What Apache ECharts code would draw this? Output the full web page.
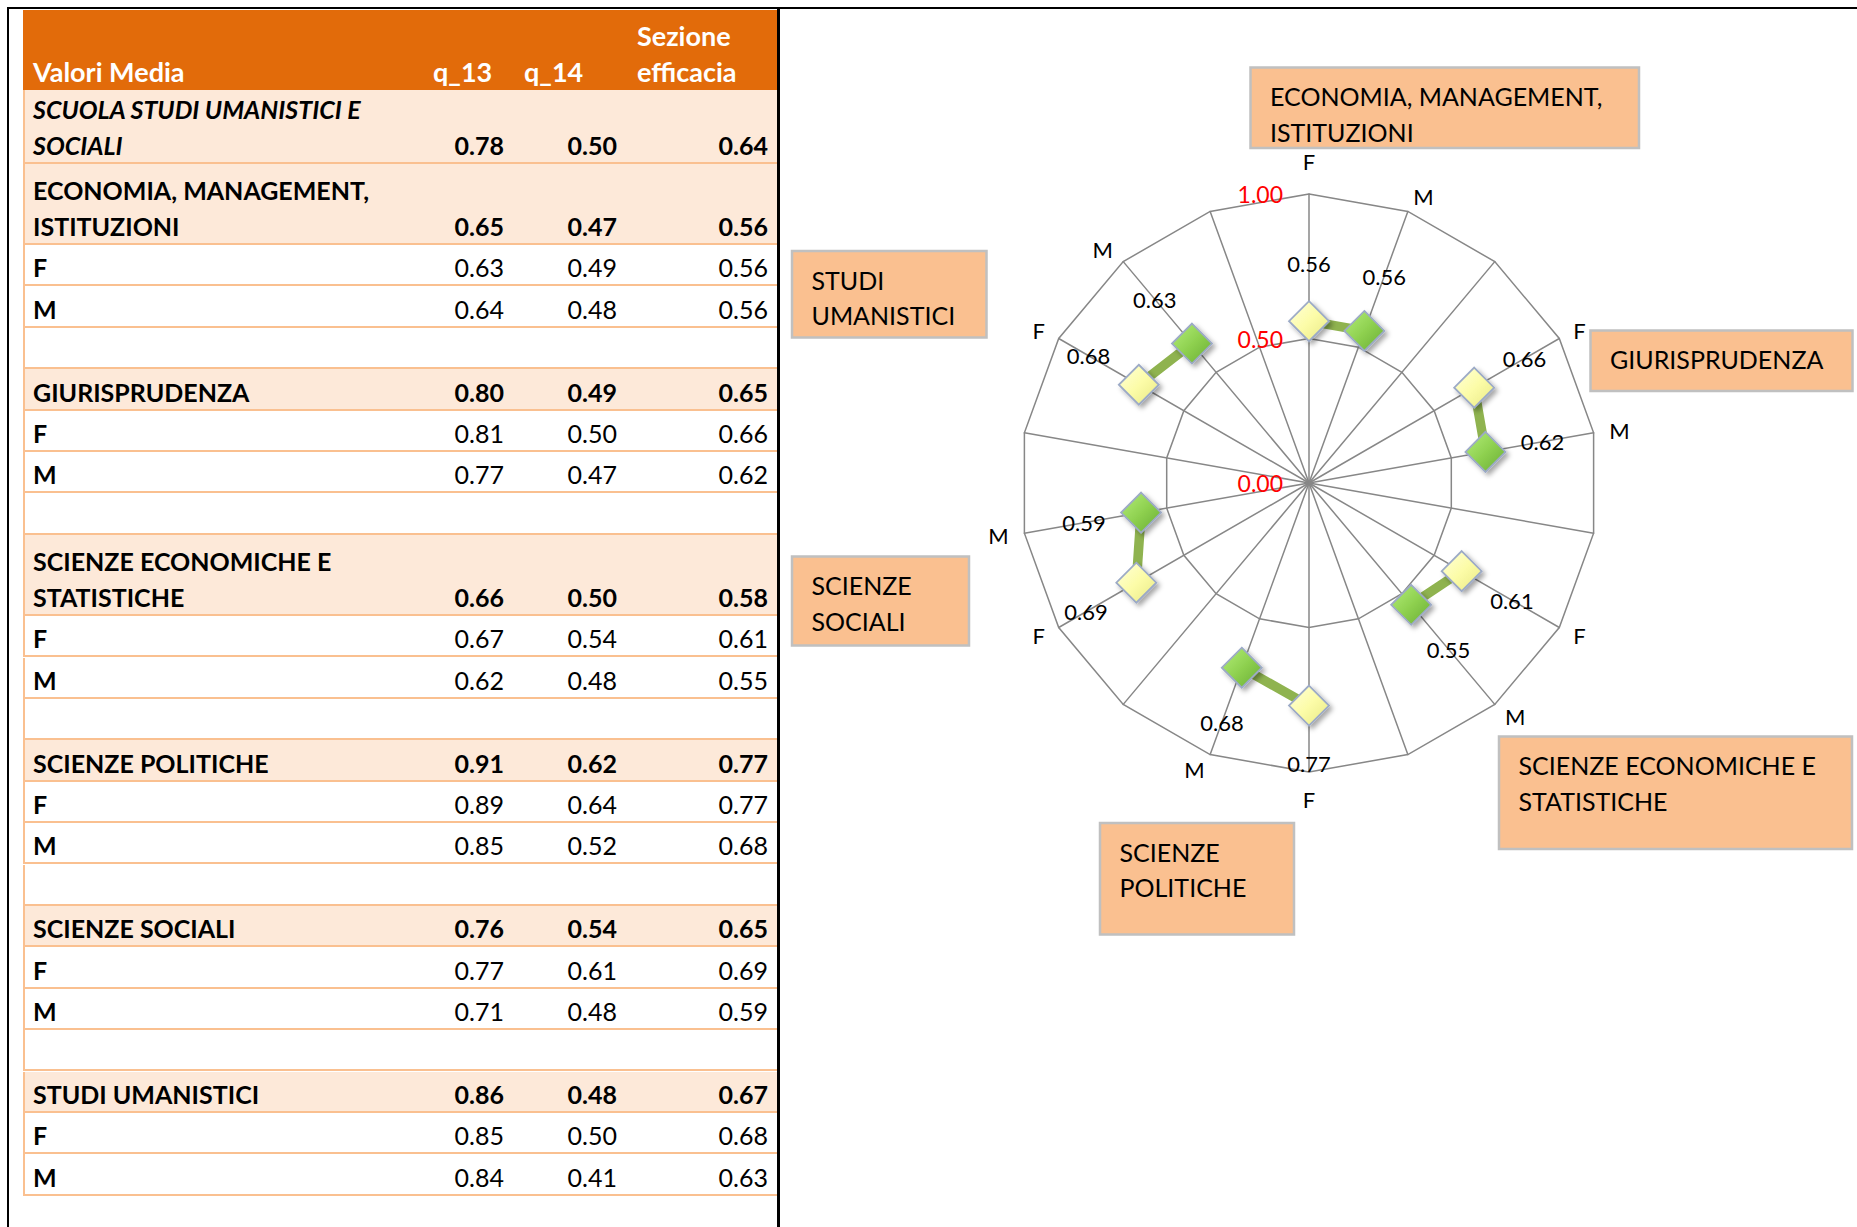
<!DOCTYPE html>
<html>
<head>
<meta charset="utf-8">
<script src="https://cdn.jsdelivr.net/npm/echarts@6/dist/echarts.min.js"></script>
<style>
  html, body { margin: 0; padding: 0; background: #fff; }
  body { width: 1857px; height: 1227px; position: relative; overflow: hidden; font-family: Lato, "Open Sans", sans-serif; }
  #chart { position: absolute; left: 0; top: 0; width: 1857px; height: 1227px; }
  .line { position: absolute; background: #000; z-index: 3; }
  .row { position: absolute; left: 23px; width: 755px; box-sizing: border-box; z-index: 2;
         border-bottom: 2px solid #fac090; border-left: 2px solid #fac090; background: #fff; }
  .row.group { background: #fde9d9; font-weight: bold; }
  .row.school { background: #fde9d9; font-weight: bold; font-style: italic; }
  .head { position: absolute; left: 23px; top: 10px; width: 755px; height: 80.3px; background: #e26b0a;
          color: #fff; font-weight: bold; z-index: 2; }
  .cell { position: absolute; bottom: -1px; line-height: 36px; font-size: 25px; white-space: pre; color: #000; }
  .head .cell { color: #fff; font-size: 27px; bottom: 0; }
  .num { font-style: normal; }
  .lab { font-weight: bold; }
</style>
</head>
<body>
<div id="chart"></div>
<div class="line" style="left:7px;top:7px;width:1850px;height:2px"></div>
<div class="line" style="left:7px;top:7px;width:2px;height:1220px"></div>
<div class="line" style="left:777px;top:7px;width:3px;height:1220px"></div>
<div id="table"></div>
<script>
// ---- data ----
const headerLabels = ["Valori Media", "q_13", "q_14", "Sezione\nefficacia"];
const schoolName = "SCUOLA STUDI UMANISTICI E\nSOCIALI";
const schoolValues = [0.78, 0.50, 0.64];

const faculties = [
  "ECONOMIA, MANAGEMENT, ISTITUZIONI",
  "GIURISPRUDENZA",
  "SCIENZE ECONOMICHE E STATISTICHE",
  "SCIENZE POLITICHE",
  "SCIENZE SOCIALI",
  "STUDI UMANISTICI",
];
const tableNames = [
  "ECONOMIA, MANAGEMENT,\nISTITUZIONI",
  "GIURISPRUDENZA",
  "SCIENZE ECONOMICHE E\nSTATISTICHE",
  "SCIENZE POLITICHE",
  "SCIENZE SOCIALI",
  "STUDI UMANISTICI",
];
const boxNames = [
  "ECONOMIA, MANAGEMENT,\nISTITUZIONI",
  "GIURISPRUDENZA",
  "SCIENZE ECONOMICHE E\nSTATISTICHE",
  "SCIENZE\nPOLITICHE",
  "SCIENZE\nSOCIALI",
  "STUDI\nUMANISTICI",
];
const sexes = ["F", "M"];

const facultyQ13 = [0.65, 0.80, 0.66, 0.91, 0.76, 0.86];
const facultyQ14 = [0.47, 0.49, 0.50, 0.62, 0.54, 0.48];
const facultySez = [0.56, 0.65, 0.58, 0.77, 0.65, 0.67];

const q13F = [0.63, 0.81, 0.67, 0.89, 0.77, 0.85];
const q14F = [0.49, 0.50, 0.54, 0.64, 0.61, 0.50];
const sezF = [0.56, 0.66, 0.61, 0.77, 0.69, 0.68];

const q13M = [0.64, 0.77, 0.62, 0.85, 0.71, 0.84];
const q14M = [0.48, 0.47, 0.48, 0.52, 0.48, 0.41];
const sezM = [0.56, 0.62, 0.55, 0.68, 0.59, 0.63];

const radarTicks = [0, 0.5, 1];

// ---- table ----
const table = document.getElementById("table");
const fmt = (v) => v.toFixed(2);
const valueRight = [274, 161, 10];

function addCell(parent, text, style, cls) {
  const c = document.createElement("div");
  c.className = "cell " + (cls || "");
  c.textContent = text;
  Object.assign(c.style, style);
  parent.appendChild(c);
}

const head = document.createElement("div");
head.className = "head";
addCell(head, headerLabels[0], { left: "10px" });
addCell(head, headerLabels[1], { left: "410px" });
addCell(head, headerLabels[2], { left: "501px" });
addCell(head, headerLabels[3], { left: "614px" });
table.appendChild(head);

const rows = [{ kind: "school", label: schoolName, values: schoolValues, h: 73.4 }];
faculties.forEach((f, i) => {
  const twoLines = tableNames[i].includes("\n");
  rows.push({ kind: "group", label: tableNames[i], values: [facultyQ13[i], facultyQ14[i], facultySez[i]], h: twoLines ? 81.3 : 41.4 });
  rows.push({ kind: "sex", label: sexes[0], values: [q13F[i], q14F[i], sezF[i]], h: 41.4 });
  rows.push({ kind: "sex", label: sexes[1], values: [q13M[i], q14M[i], sezM[i]], h: 41.4 });
  if (i < faculties.length - 1) rows.push({ kind: "blank", label: "", values: [], h: 41.4 });
});

let y = 89.3;
rows.forEach((r) => {
  const d = document.createElement("div");
  d.className = "row " + r.kind;
  d.style.top = (y + 1) + "px";
  d.style.height = r.h + "px";
  if (r.label) addCell(d, r.label, { left: "8px" }, "lab");
  r.values.forEach((v, k) => addCell(d, fmt(v), { right: valueRight[k] + "px" }, "num"));
  table.appendChild(d);
  y += r.h;
});

// ---- radar ----
const spokeNames = [];
const spokeValues = [];
const spokeSex = [];
faculties.forEach((f, i) => {
  spokeNames.push(sexes[0], sexes[1], "");
  spokeValues.push(sezF[i], sezM[i], "-");
  spokeSex.push("F", "M", "");
});
const n = spokeNames.length;
const center = [1309, 483];
const radius = 289;

// radar goes counter-clockwise, the reference goes clockwise
const ccwOrder = spokeNames.map((_, i) => (n - i) % n);

const yellowFill = {
  type: "linear", x: 0, y: 0, x2: 1, y2: 1,
  colorStops: [{ offset: 0, color: "#ffffdc" }, { offset: 0.5, color: "#fcfca8" }, { offset: 1, color: "#e8e884" }],
};
const greenFill = {
  type: "linear", x: 0, y: 0, x2: 1, y2: 1,
  colorStops: [{ offset: 0, color: "#b4ee7a" }, { offset: 0.5, color: "#8fd150" }, { offset: 1, color: "#68ac32" }],
};

const labelDist = 58;
const seriesData = spokeValues.map((v, i) => {
  if (v === "-") return "-";
  const a = (i * 2 * Math.PI) / n;
  return {
    value: v,
    itemStyle: { color: spokeSex[i] === "F" ? yellowFill : greenFill },
    label: { offset: [labelDist * Math.sin(a), -labelDist * Math.cos(a)] },
  };
});

const boxes = [
  { name: boxNames[0], x: 1250.5, y: 67.5, w: 388.5, h: 80.5 },
  { name: boxNames[1], x: 1590.5, y: 330.5, w: 262, h: 60.5 },
  { name: boxNames[2], x: 1499, y: 736.5, w: 353, h: 112.5 },
  { name: boxNames[3], x: 1100, y: 823, w: 194, h: 111.5 },
  { name: boxNames[4], x: 792, y: 556.5, w: 177, h: 89 },
  { name: boxNames[5], x: 792, y: 251, w: 194.5, h: 86.5 },
];

const chart = echarts.init(document.getElementById("chart"), null, { renderer: "svg" });
chart.setOption({
  animation: false,
  backgroundColor: "#fff",
  textStyle: { fontFamily: "Lato" },
  radar: {
    center: center,
    radius: radius,
    startAngle: 90,
    shape: "polygon",
    splitNumber: radarTicks.length - 1,
    nameGap: 16,
    axisName: { color: "#000", fontSize: 22, fontFamily: "Lato", padding: [0, 0, 6, 0] },
    indicator: ccwOrder.map((i) => ({
      name: spokeNames[i],
      min: radarTicks[0],
      max: radarTicks[radarTicks.length - 1],
      axisLabel: i === 0
        ? { show: true, color: "#ff0000", fontSize: 23, fontFamily: "Lato", margin: 26, formatter: (v) => Number(v).toFixed(2) }
        : { show: false },
    })),
    axisLine: { lineStyle: { color: "#878787", width: 1.5 } },
    splitLine: { lineStyle: { color: "#878787", width: 1.5 } },
    splitArea: { show: false },
    axisTick: { show: false },
    axisLabel: { show: false },
  },
  polar: { center: center, radius: radius },
  angleAxis: {
    type: "category",
    data: spokeNames.map((s, i) => i + s),
    startAngle: 90,
    clockwise: true,
    boundaryGap: false,
    axisLine: { show: false },
    axisTick: { show: false },
    axisLabel: { show: false },
    splitLine: { show: false },
  },
  radiusAxis: {
    type: "value",
    min: radarTicks[0],
    max: radarTicks[radarTicks.length - 1],
    axisLine: { show: false },
    axisTick: { show: false },
    axisLabel: { show: false },
    splitLine: { show: false },
  },
  series: [
    {
      type: "line",
      coordinateSystem: "polar",
      data: seriesData,
      connectNulls: false,
      color: "#8fb34f",
      lineStyle: { color: "#8fb34f", width: 9.5 },
      symbol: "diamond",
      symbolSize: 40,
      itemStyle: {
        borderColor: "#9caac6",
        borderWidth: 1.8,
        shadowBlur: 5,
        shadowOffsetX: 3,
        shadowOffsetY: 3,
        shadowColor: "rgba(0,0,0,0.35)",
      },
      label: {
        show: true,
        position: "inside",
        color: "#000",
        fontSize: 22,
        fontFamily: "Lato",
        formatter: (p) => Number(Array.isArray(p.value) ? p.value[0] : p.value).toFixed(2),
      },
      emphasis: { disabled: true },
      clip: false,
      z: 3,
    },
  ],
  graphic: boxes.map((b) => ({
    type: "group",
    children: [
      {
        type: "rect",
        shape: { x: b.x, y: b.y, width: b.w, height: b.h },
        style: { fill: "#fac090", stroke: "#c0c0c0", lineWidth: 2.5 },
      },
      {
        type: "text",
        style: {
          x: b.x + 19.5,
          y: b.y + 11,
          text: b.name,
          fill: "#000",
          font: "25px Lato",
          lineHeight: 35.5,
          verticalAlign: "top",
        },
      },
    ],
  })),
});
</script>
</body>
</html>
